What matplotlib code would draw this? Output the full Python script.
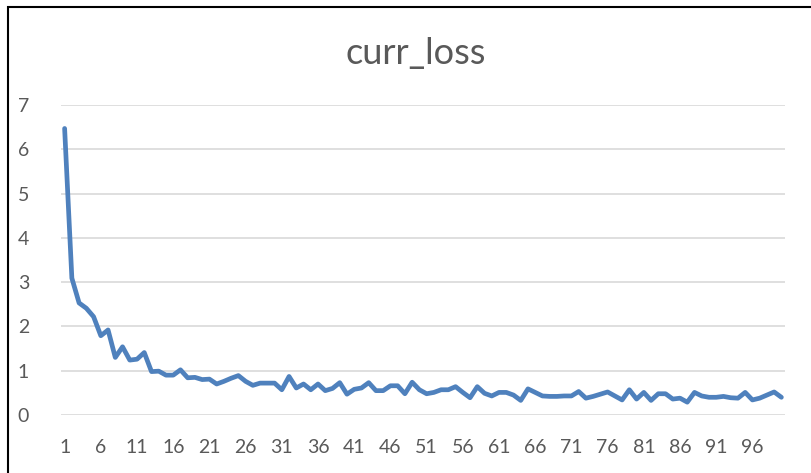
import matplotlib
matplotlib.use("Agg")
import matplotlib.pyplot as plt
from matplotlib.patches import Rectangle

epochs = list(range(1, 101))
curr_loss = [
    6.47, 3.09, 2.53, 2.41, 2.22, 1.79, 1.92, 1.30, 1.54, 1.24,
    1.26, 1.41, 0.98, 0.99, 0.90, 0.90, 1.02, 0.84, 0.85, 0.80,
    0.81, 0.70, 0.76, 0.83, 0.89, 0.76, 0.67, 0.72, 0.72, 0.72,
    0.57, 0.87, 0.61, 0.70, 0.57, 0.70, 0.55, 0.60, 0.73, 0.47,
    0.58, 0.61, 0.73, 0.55, 0.55, 0.66, 0.66, 0.48, 0.74, 0.57,
    0.48, 0.51, 0.57, 0.57, 0.64, 0.51, 0.39, 0.64, 0.49, 0.43,
    0.51, 0.51, 0.45, 0.33, 0.59, 0.51, 0.43, 0.42, 0.42, 0.43,
    0.43, 0.53, 0.38, 0.42, 0.47, 0.52, 0.43, 0.34, 0.57, 0.36,
    0.51, 0.33, 0.48, 0.48, 0.36, 0.38, 0.29, 0.51, 0.43, 0.40,
    0.40, 0.42, 0.39, 0.38, 0.51, 0.34, 0.38, 0.45, 0.52, 0.40,
]
x_ticks = list(range(1, 101, 5))
y_ticks = list(range(0, 8))
title = "curr_loss"

plt.rcParams['font.family'] = ['Lato', 'DejaVu Sans']
grey = '#595959'

fig = plt.figure(figsize=(8.11, 4.73), dpi=100)
fig.patch.set_facecolor('white')
ax = fig.add_axes([61/811, 58/473, 724/811, 310/473])

ax.plot(epochs, curr_loss, color='#4F81BD', lw=3.4, solid_joinstyle='round', solid_capstyle='round', zorder=3)
ax.set_xlim(0.5, 100.5)
ax.set_ylim(0, 7)
ax.set_xticks(x_ticks)
ax.set_xticklabels([str(t) for t in x_ticks])
ax.set_yticks(y_ticks)
ax.grid(axis='y', color='#D9D9D9', lw=1.2, zorder=0)
ax.tick_params(axis='both', length=0, colors=grey, labelsize=14)
ax.tick_params(axis='x', pad=17)
ax.tick_params(axis='y', pad=23)
for s in ax.spines.values():
    s.set_visible(False)

fig.text(415.5/811, 1 - 53/473, title, ha='center', va='center', fontsize=26,
         color=grey, fontweight='normal')

fig.patches.append(Rectangle((8/811, -0.05), 1.1, 1 - 7/473 + 0.05, transform=fig.transFigure,
                             fill=False, edgecolor='black', lw=1.5, zorder=10))

fig.savefig('out.png', dpi=100)
